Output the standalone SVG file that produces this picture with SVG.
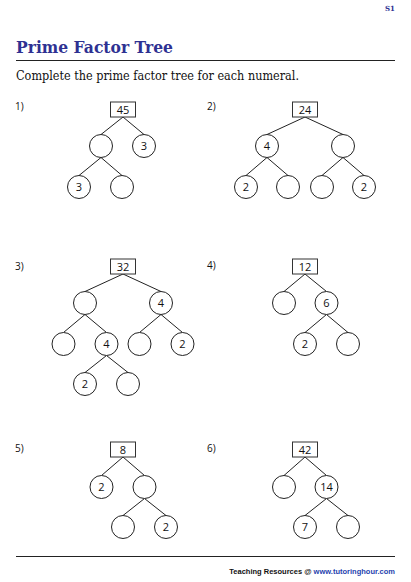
<svg xmlns="http://www.w3.org/2000/svg" width="411" height="582" viewBox="0 0 411 582">
<style>
.t{font-family:"Open Sans","Liberation Sans",sans-serif;font-size:11px;fill:#111;text-anchor:middle}
.lbl{font-family:"Open Sans","Liberation Sans",sans-serif;font-size:10px;fill:#111}
.c{fill:#fff;stroke:#222;stroke-width:1}
.b{fill:#fff;stroke:#333;stroke-width:1}
.e{stroke:#222;stroke-width:1;fill:none}
</style>
<rect width="411" height="582" fill="#fff"/>
<text x="395" y="11" text-anchor="end" font-family="DejaVu Serif,serif" font-weight="bold" font-size="7" fill="#2e3192">S1</text>
<text x="16" y="53" font-family="DejaVu Serif,serif" font-weight="bold" font-size="17" fill="#2e3192" textLength="157" lengthAdjust="spacingAndGlyphs">Prime Factor Tree</text>
<line x1="16" y1="60.5" x2="395" y2="60.5" stroke="#222" stroke-width="1"/>
<text x="16" y="80" font-family="DejaVu Serif,serif" font-size="12.5" fill="#111" textLength="283" lengthAdjust="spacingAndGlyphs">Complete the prime factor tree for each numeral.</text>
<text class="lbl" x="15" y="110">1)</text>
<text class="lbl" x="207" y="110">2)</text>
<text class="lbl" x="15" y="270">3)</text>
<text class="lbl" x="207" y="269">4)</text>
<text class="lbl" x="15" y="452">5)</text>
<text class="lbl" x="207" y="452">6)</text>
<g id="connectors" class="e">
<path d="M123 117L101 134.5M123 117L144 134.5M101 157.5L79 175.5M101 157.5L122 175.5"/>
<path d="M305 117L267 134.5M305 117L343 134.5M267 157.5L246 175.5M267 157.5L288 175.5M343 157.5L322 175.5M343 157.5L364 175.5"/>
<path d="M123 274L85 291.5M123 274L161 291.5M85 314.5L63.5 332.5M85 314.5L106.5 332.5M161 314.5L139.5 332.5M161 314.5L182.5 332.5M106.5 355.5L85 372.5M106.5 355.5L128 372.5"/>
<path d="M305 274L284 291.5M305 274L326.5 291.5M326.5 314.5L305 332.5M326.5 314.5L348 332.5"/>
<path d="M123 457L101.5 475.5M123 457L144.5 475.5M144.5 498.5L123 515.5M144.5 498.5L166 515.5"/>
<path d="M305 457L284 475.5M305 457L326.5 475.5M326.5 498.5L305 515.5M326.5 498.5L348 515.5"/>
</g>
<g id="t1-root"><rect class="b" x="110.5" y="102" width="25" height="15"/><text class="t" x="123" y="113.5">45</text></g>
<g id="t1-a"><circle class="c" cx="101" cy="146" r="11.5"/></g>
<g id="t1-b"><circle class="c" cx="144" cy="146" r="11.5"/><text class="t" x="144" y="150">3</text></g>
<g id="t1-c"><circle class="c" cx="79" cy="187" r="11.5"/><text class="t" x="79" y="191">3</text></g>
<g id="t1-d"><circle class="c" cx="122" cy="187" r="11.5"/></g>
<g id="t2-root"><rect class="b" x="292.5" y="102" width="25" height="15"/><text class="t" x="305" y="113.5">24</text></g>
<g id="t2-a"><circle class="c" cx="267" cy="146" r="11.5"/><text class="t" x="267" y="150">4</text></g>
<g id="t2-b"><circle class="c" cx="343" cy="146" r="11.5"/></g>
<g id="t2-c"><circle class="c" cx="246" cy="187" r="11.5"/><text class="t" x="246" y="191">2</text></g>
<g id="t2-d"><circle class="c" cx="288" cy="187" r="11.5"/></g>
<g id="t2-e"><circle class="c" cx="322" cy="187" r="11.5"/></g>
<g id="t2-f"><circle class="c" cx="364" cy="187" r="11.5"/><text class="t" x="364" y="191">2</text></g>
<g id="t3-root"><rect class="b" x="110.5" y="259" width="25" height="15"/><text class="t" x="123" y="270.5">32</text></g>
<g id="t3-a"><circle class="c" cx="85" cy="303" r="11.5"/></g>
<g id="t3-b"><circle class="c" cx="161" cy="303" r="11.5"/><text class="t" x="161" y="307">4</text></g>
<g id="t3-c"><circle class="c" cx="63.5" cy="344" r="11.5"/></g>
<g id="t3-d"><circle class="c" cx="106.5" cy="344" r="11.5"/><text class="t" x="106.5" y="348">4</text></g>
<g id="t3-e"><circle class="c" cx="139.5" cy="344" r="11.5"/></g>
<g id="t3-f"><circle class="c" cx="182.5" cy="344" r="11.5"/><text class="t" x="182.5" y="348">2</text></g>
<g id="t3-g"><circle class="c" cx="85" cy="384" r="11.5"/><text class="t" x="85" y="388">2</text></g>
<g id="t3-h"><circle class="c" cx="128" cy="384" r="11.5"/></g>
<g id="t4-root"><rect class="b" x="292.5" y="259" width="25" height="15"/><text class="t" x="305" y="270.5">12</text></g>
<g id="t4-a"><circle class="c" cx="284" cy="303" r="11.5"/></g>
<g id="t4-b"><circle class="c" cx="326.5" cy="303" r="11.5"/><text class="t" x="326.5" y="307">6</text></g>
<g id="t4-c"><circle class="c" cx="305" cy="344" r="11.5"/><text class="t" x="305" y="348">2</text></g>
<g id="t4-d"><circle class="c" cx="348" cy="344" r="11.5"/></g>
<g id="t5-root"><rect class="b" x="110.5" y="442" width="25" height="15"/><text class="t" x="123" y="453.5">8</text></g>
<g id="t5-a"><circle class="c" cx="101.5" cy="487" r="11.5"/><text class="t" x="101.5" y="491">2</text></g>
<g id="t5-b"><circle class="c" cx="144.5" cy="487" r="11.5"/></g>
<g id="t5-c"><circle class="c" cx="123" cy="527" r="11.5"/></g>
<g id="t5-d"><circle class="c" cx="166" cy="527" r="11.5"/><text class="t" x="166" y="531">2</text></g>
<g id="t6-root"><rect class="b" x="292.5" y="442" width="25" height="15"/><text class="t" x="305" y="453.5">42</text></g>
<g id="t6-a"><circle class="c" cx="284" cy="487" r="11.5"/></g>
<g id="t6-b"><circle class="c" cx="326.5" cy="487" r="11.5"/><text class="t" x="326.5" y="491">14</text></g>
<g id="t6-c"><circle class="c" cx="305" cy="527" r="11.5"/><text class="t" x="305" y="531">7</text></g>
<g id="t6-d"><circle class="c" cx="348" cy="527" r="11.5"/></g>
<line x1="16" y1="556.5" x2="395" y2="556.5" stroke="#222" stroke-width="1"/>
<text x="395" y="574" text-anchor="end" font-family="Liberation Sans,sans-serif" font-weight="bold" font-size="7.5" fill="#111">Teaching Resources @ <tspan fill="#1f3fae">www.tutoringhour.com</tspan></text>
</svg>
